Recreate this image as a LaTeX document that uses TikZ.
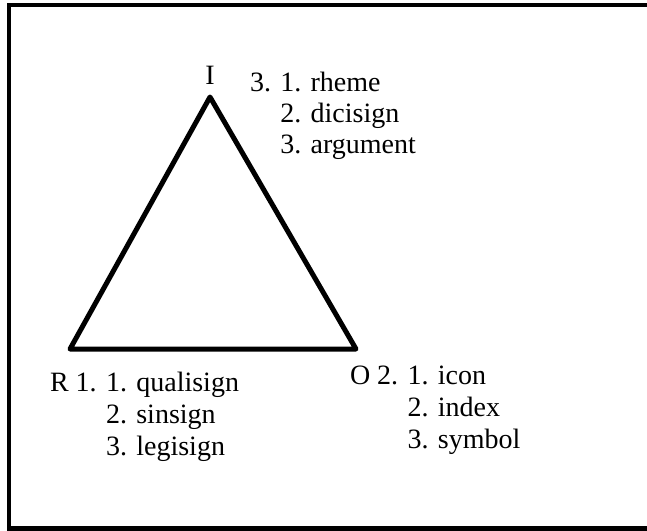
\documentclass[tikz,border=0pt]{standalone}
\usepackage{fontspec}
\setmainfont{Liberation Serif}
\begin{document}
\begin{tikzpicture}[x=1pt,y=-1pt,
  frame/.style={draw=black,line width=4.5pt},
  edge/.style={draw=black,line width=5pt,line join=round},
  lbl/.style={inner sep=0pt,outer sep=0pt,anchor=base west,font=\fontsize{28}{32}\selectfont}]
\useasboundingbox (0,0) rectangle (647,530);
\draw[frame] (9,5) rectangle (660,528.5);
\coordinate (I) at (210,97);
\coordinate (R) at (70,349);
\coordinate (O) at (356,349);
\draw[edge] (I) -- (R) -- (O) -- cycle;
\node[lbl,anchor=base] (li) at (210,84) {I};
\node[lbl] (lI1) at (250,91) {3. 1. rheme};
\node[lbl] (lI2) at (250,122) {\phantom{3. }2. dicisign};
\node[lbl] (lI3) at (250,153) {\phantom{3. }3. argument};
\node[lbl] (lR1) at (50,391) {R 1. 1. qualisign};
\node[lbl] (lR2) at (50,423) {\phantom{R 1. }2. sinsign};
\node[lbl] (lR3) at (50,455) {\phantom{R 1. }3. legisign};
\node[lbl] (lO1) at (350,384) {O 2. 1. icon};
\node[lbl] (lO2) at (350,416) {\phantom{O 2. }2. index};
\node[lbl] (lO3) at (350,448) {\phantom{O 2. }3. symbol};
\end{tikzpicture}
\end{document}
